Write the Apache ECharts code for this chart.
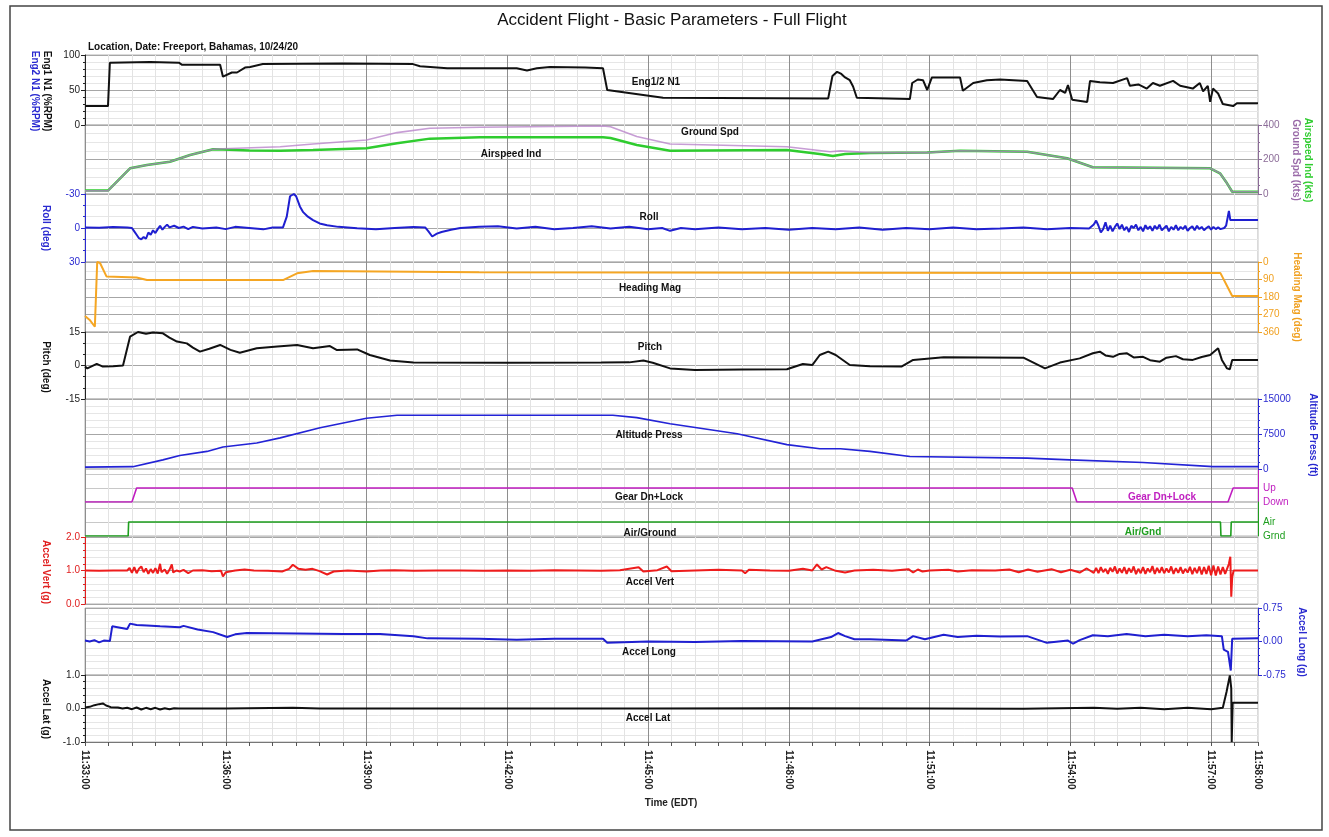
<!DOCTYPE html>
<html><head><meta charset="utf-8">
<script src="https://cdn.jsdelivr.net/npm/echarts@6/dist/echarts.min.js"></script>
<style>html,body{margin:0;padding:0;background:#fff}#c{width:1329px;height:837px}</style>
</head><body><div id="c"></div>
<script>
// time in minutes after 11:33:00
const xTickMinutes = [0,3,6,9,12,15,18,21,24,25];
const xTickLabels = ['11:33:00','11:36:00','11:39:00','11:42:00','11:45:00','11:48:00','11:51:00','11:54:00','11:57:00','11:58:00'];

const engN1 = [[0,27],[0.49,27],[0.53,89],[1.39,90],[2.0,89],[2.07,86],[2.88,86],[2.94,69],[3.13,75],[3.24,75],[3.41,82],[3.52,83],[3.79,87],[5.5,88],[6.99,87],[7.14,84],[7.72,81],[9.2,81],[9.42,78],[9.63,81],[9.91,83],[10.66,82],[11.04,81],[11.13,50],[12.32,39],[15.84,38],[15.93,70],[16.03,76],[16.12,73],[16.2,68],[16.3,64],[16.37,55],[16.45,39],[17.58,37],[17.63,60],[17.75,65],[17.86,64],[17.95,50],[18.05,68],[18.65,68],[18.71,49],[18.93,60],[19.22,64],[19.5,65],[20.08,63],[20.29,40],[20.63,37],[20.78,50],[20.89,46],[20.95,57],[21.04,36],[21.36,33],[21.42,63],[21.63,61],[21.91,60],[22.21,67],[22.27,56],[22.45,58],[22.63,52],[22.76,60],[22.91,56],[23.19,63],[23.34,56],[23.61,52],[23.76,60],[23.83,48],[23.93,56],[23.98,33],[24.04,52],[24.15,45],[24.25,30],[24.47,27],[24.55,31],[25,31]];

const airspeedInd = [[0,20],[0.49,20],[0.96,149],[1.32,168],[1.81,187],[2.24,226],[2.73,259],[2.94,258],[3.5,252],[4.16,251],[4.86,255],[6.0,265],[6.65,294],[7.35,321],[8.42,329],[11.04,329],[11.2,325],[11.76,284],[12.47,251],[14.96,255],[15.7,230],[15.94,220],[16.2,232],[16.73,238],[17.95,240],[18.65,251],[20.08,245],[20.93,207],[21.48,155],[23.98,149],[24.19,120],[24.34,62],[24.45,13],[25,13]];

const groundSpd = [[0,18],[0.49,18],[0.96,149],[1.32,168],[1.81,187],[2.24,226],[2.73,259],[2.94,262],[4.16,274],[4.86,290],[6.0,313],[6.65,356],[7.35,381],[8.42,387],[11.04,394],[11.2,390],[11.76,333],[12.47,290],[14.96,274],[15.88,245],[16.1,250],[16.73,240],[17.95,240],[18.65,251],[20.08,245],[20.93,207],[21.48,155],[23.98,149],[24.19,120],[24.34,62],[24.45,13],[25,13]];

const roll = [[0,-0.5],[0.3,-0.2],[0.6,-0.9],[0.9,-0.4],[1.0,0],[1.05,3],[1.1,6],[1.15,9],[1.2,10],[1.25,8],[1.3,9.5],[1.35,4],[1.4,6],[1.45,2],[1.5,4.5],[1.55,1],[1.6,-2],[1.65,1.5],[1.7,-1],[1.75,-3],[1.8,-0.5],[1.9,-2],[2.0,0],[2.1,-1.2],[2.2,1],[2.3,-1],[2.5,0.5],[2.8,-0.5],[3.0,1],[3.2,-1],[3.5,0],[3.8,1.2],[4.0,-0.5],[4.22,-0.5],[4.3,-10],[4.37,-28],[4.45,-30],[4.5,-28],[4.58,-19],[4.65,-14],[4.75,-10],[4.86,-7],[5.0,-4],[5.16,-2.5],[5.4,-1],[5.8,0.3],[6.2,1],[6.6,0],[7.0,-0.8],[7.25,-0.5],[7.32,3],[7.4,7.5],[7.5,5],[7.6,3.5],[7.8,1.5],[8.0,0],[8.4,-1],[8.8,-1.5],[9.2,0.5],[9.6,-1],[10.0,1],[10.4,0],[10.8,-1.5],[11.2,0.5],[11.6,-1],[12.0,1],[12.3,0],[12.47,2.5],[12.7,0],[13.0,1],[13.5,-0.5],[14.0,1],[14.5,0],[15.0,1.5],[15.5,0],[16.0,1],[16.5,-0.5],[17.0,1.5],[17.5,0],[18.0,1],[18.5,-0.5],[19.0,1],[19.5,0.5],[20.0,-0.5],[20.5,1],[21.0,0],[21.4,0.5],[21.5,-3],[21.55,-6.5],[21.6,-2],[21.65,4],[21.7,1],[21.75,-5],[21.8,2.5],[21.85,-2],[21.9,3],[21.95,-1],[22.0,-4],[22.05,1],[22.1,-3],[22.15,2],[22.2,-1],[22.25,3.5],[22.3,-2],[22.35,0],[22.4,-3],[22.45,2],[22.5,-1],[22.55,3],[22.6,-2.5],[22.65,1],[22.7,-1.5],[22.75,2.5],[22.8,-2],[22.85,1],[22.9,-3],[22.95,2],[23.0,0],[23.05,-2],[23.1,3],[23.15,-1],[23.2,1.5],[23.25,-2.5],[23.3,2],[23.35,-1],[23.4,1],[23.45,-2],[23.5,2.5],[23.55,0],[23.6,-1.5],[23.65,2],[23.7,-2],[23.75,1],[23.8,-1],[23.85,2],[23.9,0],[23.95,-1.5],[24.0,1.5],[24.05,-1],[24.1,1],[24.15,-0.5],[24.2,1],[24.28,0],[24.32,-2],[24.38,-15],[24.41,-7],[25,-7]];

const headingMag = [[0,278],[0.1,298],[0.21,333],[0.25,340],[0.26,0],[0.32,5],[0.46,75],[1.1,80],[1.32,93],[4.22,93],[4.52,58],[4.86,46],[8.4,53],[16,55],[24.2,57],[24.45,175],[25,175]];

const pitch = [[0,-0.5],[0.05,-1.3],[0.25,0.7],[0.38,-0.5],[0.6,-0.3],[0.81,0],[0.96,12.9],[1.13,15],[1.3,14.2],[1.45,14.8],[1.66,14.4],[1.8,12.5],[1.96,10.7],[2.17,9.9],[2.3,8],[2.45,6.2],[2.65,7.5],[2.88,9.2],[3.1,7],[3.3,5.7],[3.66,7.7],[4.1,8.5],[4.52,9.2],[4.86,7.7],[5.22,8.7],[5.37,6.9],[5.8,7.2],[6.07,4.7],[6.5,2.2],[7.0,1.3],[9,1.2],[11.0,1.3],[11.6,1.4],[11.9,2.2],[12.1,1.2],[12.47,-1.3],[13.0,-2],[14.0,-1.8],[14.96,-1.7],[15.3,0.7],[15.5,0.2],[15.66,4.7],[15.84,6.2],[16.0,4.7],[16.3,0.2],[16.73,-0.3],[17.4,-0.5],[17.65,2.5],[18.3,3.7],[20.0,3.5],[20.46,-1.3],[20.78,1.3],[21.2,3.2],[21.48,5.5],[21.63,6.2],[21.75,4.5],[21.91,3.9],[22.05,5.2],[22.2,5.5],[22.35,3.6],[22.55,3.9],[22.7,2.4],[22.91,1.7],[23.05,3.5],[23.25,4.2],[23.4,2.8],[23.61,2.5],[23.8,3.8],[23.98,4.7],[24.15,7.7],[24.23,2.5],[24.34,-1.3],[24.4,-1.7],[24.45,2.5],[25,2.5]];

const altitudePress = [[0,400],[1.02,500],[1.66,1960],[2.02,2900],[2.6,3770],[2.94,4710],[3.66,5580],[4.16,6670],[5.01,8840],[6.0,10870],[6.65,11520],[11.25,11520],[11.76,11010],[12.47,9710],[13.9,7540],[14.96,5220],[15.66,4350],[16.1,4350],[16.73,3770],[17.58,2680],[20.08,2320],[20.99,1960],[22.55,1380],[24.04,500],[25,500]];

const gearDnLock = [[0,0],[1.0,0],[1.1,1],[21.04,1],[21.14,0],[24.36,0],[24.47,1],[25,1]];
const airGround = [[0,0],[0.92,0],[0.93,1],[24.2,1],[24.21,0],[24.42,0],[24.43,1],[25,1]];

const accelVert = [[0,1.0],[0.3,0.99],[0.6,1.0],[0.9,1.0],[0.95,1.08],[1.0,0.93],[1.05,1.1],[1.1,0.92],[1.15,1.05],[1.2,1.12],[1.25,0.95],[1.3,1.06],[1.35,0.9],[1.4,1.04],[1.45,0.93],[1.5,1.07],[1.55,0.91],[1.6,1.2],[1.63,0.95],[1.7,1.03],[1.75,0.9],[1.8,1.02],[1.85,1.18],[1.88,0.94],[1.95,1.0],[2.02,0.97],[2.1,1.02],[2.2,0.92],[2.3,1.0],[2.5,1.01],[2.7,0.98],[2.9,0.99],[2.94,0.82],[3.0,0.95],[3.2,1.0],[3.4,1.03],[3.6,1.0],[3.9,0.99],[4.2,0.97],[4.35,1.05],[4.43,1.17],[4.55,1.05],[4.7,1.02],[4.85,1.05],[5.0,0.98],[5.16,0.88],[5.3,0.97],[5.6,1.0],[6.0,0.97],[6.3,1.0],[6.6,1.01],[7.0,0.99],[7.5,1.0],[8.0,1.0],[8.5,0.99],[9.0,1.0],[9.5,0.99],[10.0,1.01],[10.5,1.0],[11.0,0.99],[11.4,1.01],[11.8,1.1],[11.9,0.97],[12.2,1.01],[12.4,1.12],[12.5,0.98],[13.0,1.0],[13.5,1.02],[14.0,1.0],[14.07,0.92],[14.15,1.02],[14.6,1.0],[15.0,0.99],[15.3,1.05],[15.5,1.0],[15.6,1.18],[15.7,1.03],[15.8,1.1],[16.0,0.99],[16.2,0.94],[16.4,1.0],[16.8,1.02],[17.2,0.99],[17.55,1.04],[17.65,0.94],[17.75,1.03],[17.85,0.97],[18.0,1.0],[18.4,1.02],[18.6,0.97],[18.9,1.01],[19.4,1.0],[19.7,1.03],[19.9,0.95],[20.1,1.03],[20.3,0.96],[20.6,1.04],[20.8,0.95],[21.0,1.02],[21.2,0.94],[21.35,1.06],[21.5,0.93],[21.55,1.08],[21.6,0.92],[21.65,1.1],[21.7,0.95],[21.75,1.05],[21.8,0.9],[21.85,1.08],[21.9,0.96],[21.95,1.12],[22.0,0.91],[22.05,1.06],[22.1,0.93],[22.15,1.1],[22.2,0.9],[22.25,1.07],[22.3,0.94],[22.35,1.12],[22.4,0.89],[22.45,1.05],[22.5,0.92],[22.55,1.1],[22.6,0.9],[22.65,1.06],[22.7,0.95],[22.75,1.13],[22.8,0.9],[22.85,1.08],[22.9,0.93],[22.95,1.1],[23.0,0.92],[23.05,1.06],[23.1,0.94],[23.15,1.12],[23.2,0.9],[23.25,1.07],[23.3,0.93],[23.35,1.1],[23.4,0.91],[23.45,1.05],[23.5,0.94],[23.55,1.11],[23.6,0.89],[23.65,1.08],[23.7,0.92],[23.75,1.12],[23.8,0.88],[23.85,1.1],[23.9,0.9],[23.95,1.14],[24.0,0.86],[24.05,1.15],[24.1,0.85],[24.15,1.12],[24.2,0.88],[24.25,1.1],[24.3,0.9],[24.38,1.2],[24.41,1.41],[24.43,0.22],[24.45,0.8],[24.48,1.0],[25,1.0]];

const accelLong = [[0,0.02],[0.1,0.0],[0.2,0.03],[0.3,-0.02],[0.4,0.02],[0.53,0.01],[0.58,0.34],[0.75,0.31],[0.9,0.28],[0.96,0.40],[1.1,0.37],[1.32,0.36],[1.6,0.34],[2.02,0.32],[2.1,0.35],[2.4,0.27],[2.73,0.21],[3.03,0.1],[3.2,0.16],[3.45,0.19],[4.5,0.18],[5.5,0.17],[6.29,0.17],[7.0,0.12],[7.3,0.07],[8.4,0.06],[9.2,0.04],[10,0.06],[11.04,0.06],[11.13,-0.03],[12,0.0],[13,-0.01],[14,0.01],[15.5,0.0],[15.9,0.1],[16.05,0.19],[16.2,0.12],[16.4,0.05],[16.73,0.05],[17.5,0.02],[17.65,0.12],[17.9,0.05],[18.3,0.15],[18.6,0.1],[19,0.13],[19.5,0.11],[20.08,0.12],[20.5,-0.03],[20.95,0.02],[21.06,-0.05],[21.2,0.03],[21.48,0.14],[21.8,0.12],[22.2,0.17],[22.6,0.12],[23.0,0.15],[23.5,0.12],[23.9,0.14],[24.23,0.12],[24.27,-0.18],[24.36,-0.23],[24.42,-0.65],[24.45,0.06],[25,0.07]];

const accelLat = [[0,0.03],[0.1,0.05],[0.2,0.1],[0.3,0.13],[0.38,0.15],[0.45,0.09],[0.55,0.04],[0.7,0.03],[0.8,0.0],[0.9,0.02],[1.0,-0.02],[1.1,0.03],[1.2,-0.03],[1.3,0.02],[1.4,-0.02],[1.5,0.02],[1.6,-0.03],[1.7,0.01],[1.8,-0.02],[1.9,0.01],[2.0,0.0],[3.0,0.0],[4.43,0.02],[5.0,0.0],[8,0.0],[12,0.0],[15.0,0.01],[18,0.0],[20,-0.01],[21.5,0.02],[22,-0.01],[22.5,0.02],[23,-0.02],[23.5,0.02],[24.0,-0.02],[24.25,0.02],[24.33,0.5],[24.4,0.99],[24.43,0.6],[24.44,-1.0],[24.46,0.17],[25,0.17]];

const FONT = '"Liberation Sans", Arial, sans-serif';
// panel layout: [top, height]
const panels = [[55,70],[125,69],[194,68],[262,70],[332,67],[399,70],[469,33],[502,34],[537,67],[608,67],[675,67]];
const LAST = panels.length - 1;

const grids = panels.map(p => ({left:85, right:71, top:p[0], height:p[1], show:true, borderColor:'#b4b4b4', borderWidth:1, outerBoundsMode:'none', containLabel:false}));

const xAxes = panels.map((p,i) => ({
  type:'value', gridIndex:i, min:0, max:25, interval:0.5,
  axisLine:{show:i===LAST, onZero:false, lineStyle:{color:'#777'}},
  axisTick:{show:i===LAST, length:4, lineStyle:{color:'#555'}},
  axisLabel:{show:i===LAST, interval:0, rotate:-90, margin:8, fontSize:10, fontWeight:'bold', color:'#222', fontFamily:FONT,
    formatter:v => { const k = xTickMinutes.findIndex(m => Math.abs(m - v) < 1e-6); return k >= 0 ? xTickLabels[k] : ''; }},
  splitLine:{show:true, lineStyle:{color:['#8e8e8e','#e3e3e3','#e3e3e3','#e3e3e3','#e3e3e3','#e3e3e3'], width:1}}
}));

function yAx(g, pos, min, max, interval, color, extra) {
  return Object.assign({
    type:'value', gridIndex:g, position:pos, min:min, max:max, interval:interval,
    axisLine:{show:true, onZero:false, lineStyle:{color:color, width:1}},
    axisTick:{show:true, length:4, lineStyle:{color:color}},
    minorTick:{show:true, splitNumber:5, length:2, lineStyle:{color:color}},
    axisLabel:{color:color, fontSize:10, fontFamily:FONT, margin:5},
    splitLine:{show:true, lineStyle:{color:'#a6a6a6'}},
    minorSplitLine:{show:true, lineStyle:{color:'#e6e6e6'}}
  }, extra || {});
}
const fmt1 = v => v.toFixed(1), fmt2 = v => v.toFixed(2), fmt0 = v => String(v);
const yAxes = [
  yAx(0,'left',0,100,50,'#222'),
  yAx(1,'right',0,400,200,'#8c6c98',{minorTick:{show:true,splitNumber:4,length:2,lineStyle:{color:'#8c6c98'}}}),
  yAx(2,'left',-30,30,30,'#2a2ad0',{inverse:true, minorTick:{show:true,splitNumber:3,length:2,lineStyle:{color:'#2a2ad0'}}}),
  yAx(3,'right',0,360,90,'#f0a020',{inverse:true, minorTick:{show:true,splitNumber:2,length:2,lineStyle:{color:'#f0a020'}}}),
  yAx(4,'left',-15,15,15,'#222',{minorTick:{show:true,splitNumber:3,length:2,lineStyle:{color:'#222'}}}),
  yAx(5,'right',0,15000,7500,'#2a2ad0',{minorTick:{show:true,splitNumber:5,length:2,lineStyle:{color:'#2a2ad0'}}, axisLabel:{color:'#2a2ad0',fontSize:10,fontFamily:FONT,margin:5,formatter:fmt0}}),
  yAx(6,'right',0,2.36,1,'#c020c0',{minorTick:{show:false}, minorSplitLine:{show:false}, axisTick:{show:false}, splitLine:{show:true,lineStyle:{color:'#c8c8c8'}}, axisLabel:{color:'#c020c0',fontSize:10,fontFamily:FONT,margin:5,formatter:v => v===1?'Up':(v===0?'Down':'')}}),
  yAx(7,'right',0,2.43,1,'#1e9e1e',{minorTick:{show:false}, minorSplitLine:{show:false}, axisTick:{show:false}, splitLine:{show:true,lineStyle:{color:'#c8c8c8'}}, axisLabel:{color:'#1e9e1e',fontSize:10,fontFamily:FONT,margin:5,formatter:v => v===1?'Air':(v===0?'Grnd':'')}}),
  yAx(8,'left',0,2,1,'#e02020',{axisLabel:{color:'#e02020',fontSize:10,fontFamily:FONT,margin:5,formatter:fmt1}}),
  yAx(9,'right',-0.75,0.75,0.75,'#2a2ad0',{axisLabel:{color:'#2a2ad0',fontSize:10,fontFamily:FONT,margin:5,formatter:fmt2}}),
  yAx(10,'left',-1,1,1,'#222',{axisLabel:{color:'#222',fontSize:10,fontFamily:FONT,margin:5,formatter:fmt1}})
];

function ln(name, g, data, color, width, extra) {
  return Object.assign({name:name, type:'line', xAxisIndex:g, yAxisIndex:g, data:data, symbol:'none', showSymbol:false,
    lineStyle:{color:color, width:width}, itemStyle:{color:color}, animation:false, z:3}, extra || {});
}
const series = [
  ln('Eng1/2 N1',0,engN1,'#111',2),
  ln('Airspeed Ind',1,airspeedInd,'#2fcc2f',2.5),
  ln('Ground Spd',1,groundSpd,'#b47cc7',1.6,{lineStyle:{color:'#b47cc7',width:1.6,opacity:0.75},z:4}),
  ln('Roll',2,roll,'#1f1fd0',2),
  ln('Heading Mag',3,headingMag,'#f5a623',2),
  ln('Pitch',4,pitch,'#111',2),
  ln('Altitude Press',5,altitudePress,'#2323d6',1.6),
  ln('Gear Dn+Lock',6,gearDnLock,'#c01cc0',1.6),
  ln('Air/Ground',7,airGround,'#1e9e1e',1.6),
  ln('Accel Vert',8,accelVert,'#ee1c1c',2),
  ln('Accel Long',9,accelLong,'#1f1fd0',2),
  ln('Accel Lat',10,accelLat,'#111',2)
];

function txt(x, y, s, color, size, weight, rot, align) {
  return {type:'text', x:x, y:y, rotation:rot || 0, z:10, silent:true,
    style:{text:s, fill:color, font:(weight||'bold') + ' ' + size + 'px ' + FONT,
      textAlign:align||'center', align:align||'center', textVerticalAlign:'middle', verticalAlign:'middle'}};
}
const R = -Math.PI/2;
const graphic = [
  {type:'rect', shape:{x:10, y:6, width:1312, height:824}, style:{fill:'none', stroke:'#444', lineWidth:1.5}, silent:true},
  txt(672, 20, 'Accident Flight - Basic Parameters - Full Flight', '#111', 17, 'normal'),
  txt(88, 47, 'Location, Date: Freeport, Bahamas, 10/24/20', '#111', 10, 'bold', 0, 'left'),
  // axis names
  txt(47, 91, 'Eng1 N1 (%RPM)', '#111', 10, 'bold', R),
  txt(35, 91, 'Eng2 N1 (%RPM)', '#2a2ad0', 10, 'bold', R),
  txt(1308, 160, 'Airspeed Ind (kts)', '#2fcc2f', 10, 'bold', R),
  txt(1296, 160, 'Ground Spd (kts)', '#9a6aa8', 10, 'bold', R),
  txt(46, 228, 'Roll (deg)', '#2a2ad0', 10, 'bold', R),
  txt(1297, 297, 'Heading Mag (deg)', '#f0a020', 10, 'bold', R),
  txt(46, 367, 'Pitch (deg)', '#111', 10, 'bold', R),
  txt(1313, 435, 'Altitude Press (ft)', '#2a2ad0', 10, 'bold', R),
  txt(46, 572, 'Accel Vert (g)', '#e02020', 10, 'bold', R),
  txt(1302, 642, 'Accel Long (g)', '#2a2ad0', 10, 'bold', R),
  txt(46, 709, 'Accel Lat (g)', '#111', 10, 'bold', R),
  txt(671, 803, 'Time (EDT)', '#222', 10, 'bold'),
  // in-plot labels
  txt(656, 82, 'Eng1/2 N1', '#111', 10),
  txt(710, 132, 'Ground Spd', '#111', 10),
  txt(511, 154, 'Airspeed Ind', '#111', 10),
  txt(649, 217, 'Roll', '#111', 10),
  txt(650, 288, 'Heading Mag', '#111', 10),
  txt(650, 347, 'Pitch', '#111', 10),
  txt(649, 435, 'Altitude Press', '#111', 10),
  txt(649, 497, 'Gear Dn+Lock', '#111', 10),
  txt(1162, 497, 'Gear Dn+Lock', '#c020c0', 10),
  txt(650, 533, 'Air/Ground', '#111', 10),
  txt(1143, 532, 'Air/Gnd', '#1e9e1e', 10),
  txt(650, 582, 'Accel Vert', '#111', 10),
  txt(649, 652, 'Accel Long', '#111', 10),
  txt(648, 718, 'Accel Lat', '#111', 10)
];

const chart = echarts.init(document.getElementById('c'), null, {renderer:'canvas'});
chart.setOption({
  backgroundColor:'#fff', animation:false,
  textStyle:{fontFamily:FONT},
  grid:grids, xAxis:xAxes, yAxis:yAxes, series:series, graphic:graphic
});
</script>
</body></html>
